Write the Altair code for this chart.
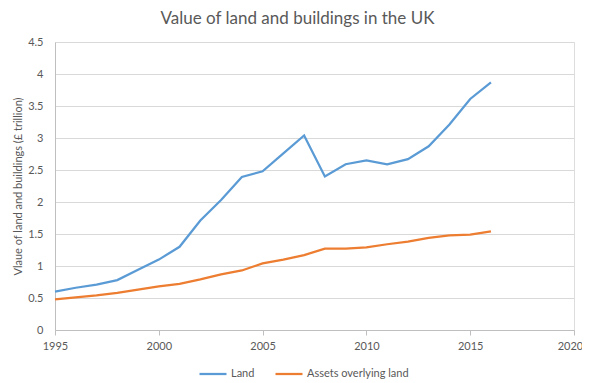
import altair as alt
import pandas as pd

years = list(range(1995, 2017))
land = [0.60, 0.66, 0.71, 0.78, 0.94, 1.10, 1.30, 1.71, 2.03, 2.39, 2.48, 2.76, 3.04,
        2.40, 2.59, 2.65, 2.59, 2.67, 2.87, 3.21, 3.61, 3.87]
assets = [0.48, 0.51, 0.54, 0.58, 0.63, 0.68, 0.72, 0.79, 0.87, 0.93, 1.04, 1.10, 1.17,
          1.27, 1.27, 1.29, 1.34, 1.38, 1.44, 1.48, 1.49, 1.54]
series_names = ["Land", "Assets overlying land"]
colors = ["#5B9BD5", "#ED7D31"]

rows = []
for y, a, b in zip(years, land, assets):
    rows.append({"year": y, "value": a, "series": series_names[0]})
    rows.append({"year": y, "value": b, "series": series_names[1]})
df = pd.DataFrame(rows)

FONT = "Lato"
GREY = "#595959"

chart = alt.Chart(df).mark_line(strokeWidth=2.25).encode(
    x=alt.X("year:Q", scale=alt.Scale(domain=[1995, 2020], nice=False),
            axis=alt.Axis(values=[1995, 2000, 2005, 2010, 2015, 2020], format="d",
                          title=None, grid=False, tickSize=5, tickColor="#bfbfbf",
                          domainColor="#bfbfbf", labelColor=GREY, labelFontSize=11,
                          labelFont=FONT, labelPadding=5, labelFlush=False,
                          labelOffset={"condition": {"test": "datum.value == 2020", "value": -4},
                                       "value": 0})),
    y=alt.Y("value:Q", scale=alt.Scale(domain=[0, 4.5], nice=False),
            axis=alt.Axis(values=[0, 0.5, 1, 1.5, 2, 2.5, 3, 3.5, 4, 4.5], format="~g",
                          title="Vlaue of land and buildings (£ trillion)",
                          titleFont=FONT, titleFontSize=11, titleColor=GREY,
                          titleFontWeight="normal", titlePadding=4,
                          grid=True, gridColor="#d9d9d9", ticks=False,
                          domainColor="#bfbfbf", labelColor=GREY, labelFontSize=11,
                          labelFont=FONT, labelPadding=12, labelFlush=False)),
    color=alt.Color("series:N", sort=series_names,
                    scale=alt.Scale(domain=series_names, range=colors),
                    legend=alt.Legend(title=None, orient="none", direction="horizontal",
                                      legendX=143, legendY=317, symbolType="stroke",
                                      symbolStrokeWidth=2.25, symbolSize=729,
                                      labelFont=FONT, labelFontSize=11, labelColor=GREY,
                                      columnPadding=16, labelOffset=3, padding=0)),
).properties(
    width=519, height=288,
    autosize="none",
    padding={"left": 47, "top": 34, "right": 8, "bottom": 50},
    title=alt.TitleParams("Value of land and buildings in the UK", font=FONT, fontSize=17,
                          fontWeight="normal", color=GREY, anchor="middle",
                          dx=-17, offset=8),
).configure_view(stroke=None).configure(background="white")

chart.save("out.html", embed_options={"renderer": "svg", "actions": False})
